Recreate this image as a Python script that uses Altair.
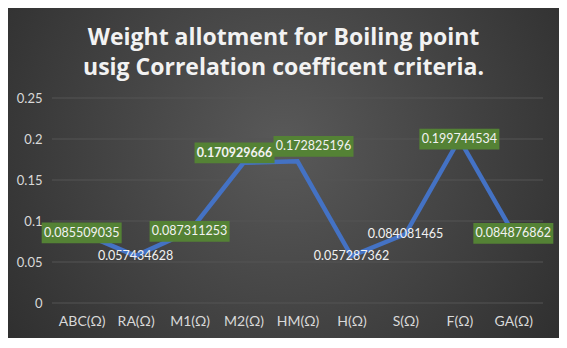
import altair as alt
import pandas as pd

categories = ["ABC(Ω)", "RA(Ω)", "M1(Ω)", "M2(Ω)", "HM(Ω)", "H(Ω)", "S(Ω)", "F(Ω)", "GA(Ω)"]
weights = [0.085509035, 0.057434628, 0.087311253, 0.170929666, 0.172825196,
           0.057287362, 0.084081465, 0.199744534, 0.084876862]
y_ticks = [0, 0.05, 0.1, 0.15, 0.2, 0.25]
title_lines = ["Weight allotment for Boiling point", "usig Correlation coefficent criteria."]

df = pd.DataFrame({"category": categories, "weight": weights})
grid_df = pd.DataFrame({"weight": y_ticks})
bg_df = pd.DataFrame({"k": [0]})

W, H = 491, 205
PAD = {"left": 44, "top": 90, "right": 16, "bottom": 35}
FONT = "Lato"
LABEL_COLOR = "#d9d9d9"
GREEN = "#548235"

x_enc = alt.X("category:N", sort=categories,
              scale=alt.Scale(type="point", padding=0.55),
              axis=alt.Axis(title=None, domain=False, ticks=False, grid=False, labelAngle=0,
                            labelColor=LABEL_COLOR, labelFont=FONT, labelFontSize=14,
                            labelPadding=11, zindex=1))
y_enc = alt.Y("weight:Q", scale=alt.Scale(domain=[0, 0.25], nice=False),
              axis=alt.Axis(title=None, values=y_ticks, format="~g", domain=False, ticks=False,
                            grid=False, labelColor=LABEL_COLOR, labelFont=FONT, labelFontSize=13,
                            labelPadding=10, zindex=1))

bg = alt.Chart(bg_df).mark_rect(
    fill={"gradient": "radial", "x1": 0.5, "y1": 0.45, "x2": 0.5, "y2": 0.45, "r1": 0, "r2": 0.75,
          "stops": [{"offset": 0, "color": "#595959"}, {"offset": 1, "color": "#262626"}]}
).encode(x=alt.value(-PAD["left"]), x2=alt.value(W + PAD["right"]),
         y=alt.value(-PAD["top"]), y2=alt.value(H + PAD["bottom"]))

title = alt.Chart(bg_df).mark_text(
    text=title_lines, font="Open Sans", fontSize=23, fontWeight="bold", color="#f2f2f2",
    align="center", baseline="alphabetic", lineHeight=30
).encode(x=alt.value((W + PAD["right"] - PAD["left"]) / 2), y=alt.value(-53))

grid = alt.Chart(grid_df).mark_rule(color="#555555", strokeWidth=1).encode(
    y=y_enc, x=alt.value(0), x2=alt.value(W))

line = alt.Chart(df).mark_line(color="#4472C4", strokeWidth=4.5).encode(x=x_enc, y=y_enc)

BOX_PATH = "M-1,-0.26L1,-0.26L1,0.26L-1,0.26Z"


def box(cats, xo=0, yo=0):
    return alt.Chart(df).transform_filter(
        alt.FieldOneOfPredicate(field="category", oneOf=cats)
    ).mark_point(shape=BOX_PATH, size=80 * 80, filled=True, fill=GREEN, opacity=1,
                 strokeWidth=0, xOffset=xo, yOffset=yo).encode(x=x_enc, y=y_enc)


def label(cats, xo=0, yo=0, weight="normal"):
    return alt.Chart(df).transform_filter(
        alt.FieldOneOfPredicate(field="category", oneOf=cats)
    ).mark_text(font=FONT, fontSize=12.5, color="#f2f2f2", fontWeight=weight,
                xOffset=xo, yOffset=yo).encode(
        x=x_enc, y=y_enc, text=alt.Text("weight:Q", format=".9f"))


plain_boxed = ["ABC(Ω)", "M1(Ω)", "F(Ω)", "GA(Ω)"]
unboxed = ["RA(Ω)", "H(Ω)", "S(Ω)"]

chart = alt.layer(
    bg, title, grid, line,
    box(plain_boxed), box(["M2(Ω)"], -9, -10), box(["HM(Ω)"], 16, -15),
    label(plain_boxed), label(unboxed), label(["M2(Ω)"], -9, -10, "bold"),
    label(["HM(Ω)"], 16, -15),
).properties(
    width=W, height=H, padding=PAD, autosize="none", background="#262626",
).configure_view(stroke=None)

chart.save("out.html", embed_options={"renderer": "svg", "actions": False})
